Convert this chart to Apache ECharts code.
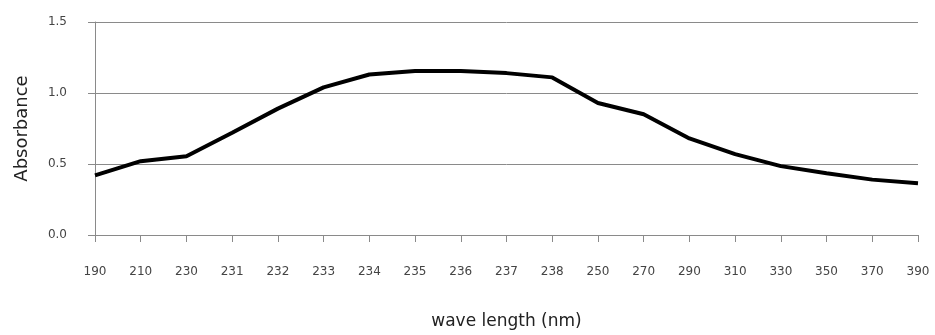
<!DOCTYPE html>
<html>
<head>
<meta charset="utf-8">
<script src="https://cdn.jsdelivr.net/npm/echarts@6/dist/echarts.min.js"></script>
<style>html,body{margin:0;padding:0;background:#fff;}#c{width:935px;height:335px;}</style>
</head>
<body>
<div id="c"></div>
<script>
const categories = ['190','210','230','231','232','233','234','235','236','237','238','250','270','290','310','330','350','370','390'];
const absorbance = [0.42,0.52,0.555,0.72,0.89,1.04,1.13,1.155,1.155,1.14,1.11,0.93,0.85,0.68,0.57,0.485,0.435,0.39,0.365];
const yTicks = {min:0, max:1.5, interval:0.5};

const chart = echarts.init(document.getElementById('c'));
const txt = '#444';
const line = '#8a8a8a';
chart.setOption({
  animation:false,
  grid:{left:95, right:17, top:22, bottom:93, containLabel:false},
  xAxis:{
    type:'category', data:categories, boundaryGap:false,
    name:'wave length (nm)', nameLocation:'middle', nameGap:78,
    nameTextStyle:{fontFamily:'DejaVu Sans', fontSize:17, color:'#222'},
    axisLine:{lineStyle:{color:line, width:1}},
    axisTick:{show:true, length:7, lineStyle:{color:line}},
    axisLabel:{margin:31, fontFamily:'DejaVu Sans', fontSize:12, color:txt, interval:0},
    splitLine:{show:false}
  },
  yAxis:{
    type:'value', min:yTicks.min, max:yTicks.max, interval:yTicks.interval,
    name:'Absorbance', nameLocation:'middle', nameGap:64, nameRotate:90,
    nameTextStyle:{fontFamily:'DejaVu Sans', fontSize:18, color:'#222'},
    axisLine:{show:true, lineStyle:{color:line, width:1}},
    axisTick:{show:true, length:7, lineStyle:{color:line}},
    axisLabel:{margin:28, fontFamily:'DejaVu Sans', fontSize:12, color:txt, formatter:v=>v.toFixed(1)},
    splitLine:{show:true, lineStyle:{color:line, width:1}}
  },
  series:[{
    type:'line', data:absorbance, symbol:'none', smooth:false,
    lineStyle:{color:'#000', width:4}
  }]
});
</script>
</body>
</html>
